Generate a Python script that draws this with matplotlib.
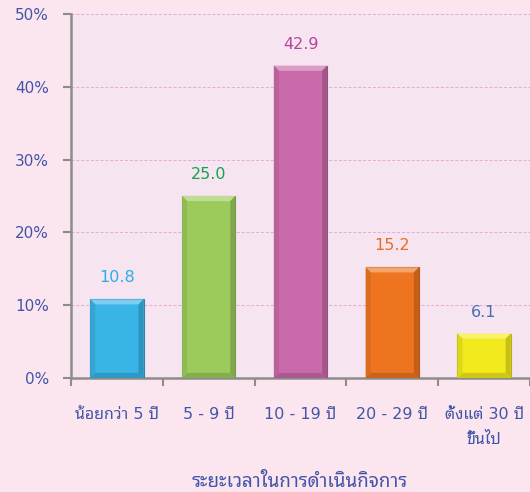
import matplotlib
matplotlib.use('Agg')
import matplotlib.pyplot as plt
from matplotlib.patches import Polygon
from matplotlib.colors import to_rgb
import numpy as np

plt.rcParams['font.family'] = ['DejaVu Sans', 'Noto Sans Thai Looped']

categories = ['น้อยกว่า 5 ปี', '5 - 9 ปี', '10 - 19 ปี', '20 - 29 ปี', 'ตั้งแต่ 30 ปี\nขึ้นไป']
values = [10.8, 25.0, 42.9, 15.2, 6.1]
value_labels = ['10.8', '25.0', '42.9', '15.2', '6.1']
bar_colors = ['#39B4E6', '#9CCB5B', '#C96AAA', '#EE7420', '#F2EA1C']
label_colors = ['#2BAEE8', '#16A34F', '#B9449B', '#EB6D24', '#4A6BB5']
y_ticks = [0, 10, 20, 30, 40, 50]
x_title = 'ระยะเวลาในการดำเนินกิจการ'

text_blue = '#4355A8'
axis_grey = '#8C8C8C'


def shade(c, f):
    r, g, b = to_rgb(c)
    if f > 0:
        return (r + (1 - r) * f, g + (1 - g) * f, b + (1 - b) * f)
    return (r * (1 + f), g * (1 + f), b * (1 + f))


fig = plt.figure(figsize=(5.3, 4.92), dpi=100)
fig.patch.set_facecolor('#FBE5EE')
ax = fig.add_axes([0.134, 0.2317, 0.866, 0.7398])
ax.set_facecolor('#F6E4F0')

x = np.arange(len(values))
bars = ax.bar(x, values, width=0.58, color=bar_colors, zorder=3,
              edgecolor=[shade(c, -0.25) for c in bar_colors], linewidth=0.8)

# bevel edges on each bar
bx, by = 0.055, 0.7
for b, c in zip(bars, bar_colors):
    x0, w, h = b.get_x(), b.get_width(), b.get_height()
    x1, y1 = x0 + w, h
    top = [(x0, y1), (x1, y1), (x1 - bx, y1 - by), (x0 + bx, y1 - by)]
    bot = [(x0, 0), (x1, 0), (x1 - bx, by), (x0 + bx, by)]
    left = [(x0, 0), (x0, y1), (x0 + bx, y1 - by), (x0 + bx, by)]
    right = [(x1, 0), (x1, y1), (x1 - bx, y1 - by), (x1 - bx, by)]
    for pts, f in [(top, 0.35), (bot, -0.15), (left, -0.08), (right, -0.18)]:
        ax.add_patch(Polygon(pts, closed=True, facecolor=shade(c, f),
                             edgecolor='none', zorder=4))

for xi, v, lab, lc in zip(x, values, value_labels, label_colors):
    ax.annotate(lab, (xi, v), xytext=(0, 10), textcoords='offset points',
                ha='center', va='bottom', color=lc, fontsize=11.5)

ax.set_xlim(-0.5, len(values) - 0.5)
ax.set_ylim(0, 50)
ax.set_yticks(y_ticks)
ax.set_yticklabels([f'{t}%' for t in y_ticks])
ax.yaxis.grid(True, color='#E6A9D6', linestyle=(0, (3, 2)), linewidth=0.7, zorder=1)
ax.set_axisbelow(True)

ax.set_xticks(np.arange(-0.5, len(values), 1.0))
ax.set_xticklabels([])
ax.set_xticks(x, minor=True)
ax.set_xticklabels(categories, minor=True, color=text_blue, fontsize=11.5, va='top',
                   linespacing=1.8)
ax.tick_params(axis='x', which='minor', length=0, pad=21)
ax.tick_params(axis='x', which='major', length=6, width=1.5, color=axis_grey, direction='out')
ax.tick_params(axis='y', length=6, width=1.5, color=axis_grey, labelcolor=text_blue,
               labelsize=11, pad=10)

for s in ['top', 'right']:
    ax.spines[s].set_visible(False)
for s in ['left', 'bottom']:
    ax.spines[s].set_color(axis_grey)
    ax.spines[s].set_linewidth(1.8)

fig.text(0.566, 0.022, x_title, ha='center', va='center', color=text_blue, fontsize=13.5)

fig.savefig('out.png', dpi=100, facecolor=fig.get_facecolor())
